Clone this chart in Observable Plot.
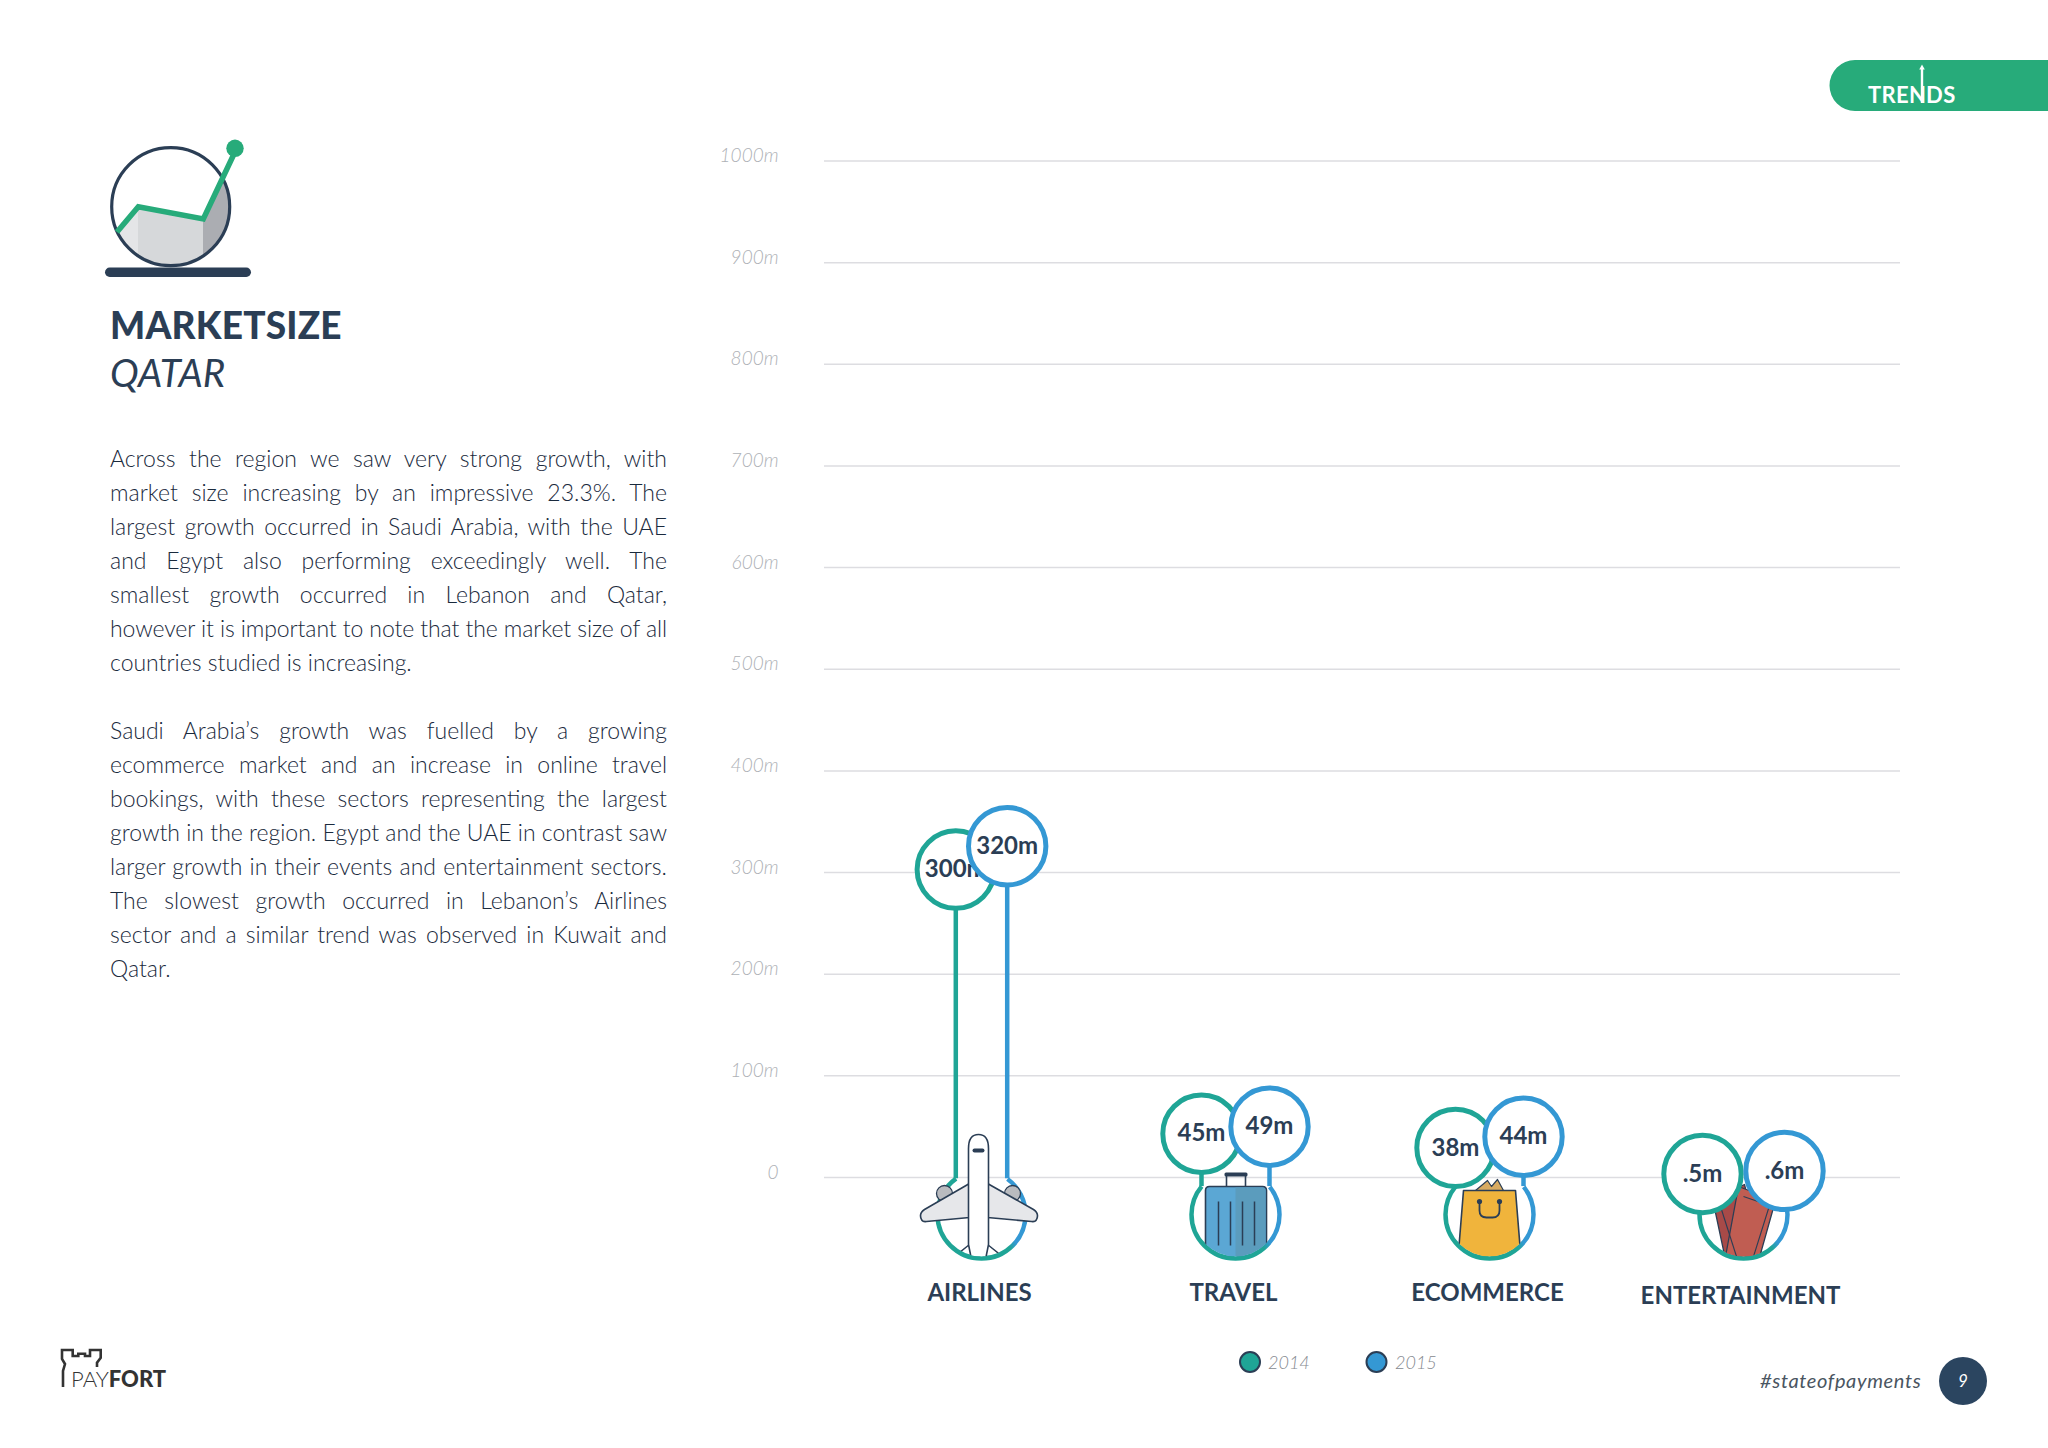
<!DOCTYPE html>
<html>
<head>
<meta charset="utf-8">
<script src="https://cdn.jsdelivr.net/npm/d3@7"></script>
<script src="https://cdn.jsdelivr.net/npm/@observablehq/plot@0.6"></script>
<style>
  html,body{margin:0;padding:0;background:#fff;width:2048px;height:1448px;overflow:hidden;font-family:Lato,sans-serif;color:#2b3e55}
  #page{position:relative;width:2048px;height:1448px}
  #page>*{position:absolute}
  #plot svg{display:block}
  #title{left:110px;top:300px;font-size:37px;font-weight:900;line-height:50px;letter-spacing:.2px}
  #subtitle{left:110px;top:347px;font-size:38.5px;font-style:italic;line-height:50px}
  #body{left:110px;top:441px;width:557px;font-size:23px;line-height:34px;font-weight:300;color:#1a2a3d;letter-spacing:0}
  #body div{white-space:nowrap;height:34px}
  #body span{display:inline-block}
  #tag{left:1760px;top:1366px;font-size:20px;font-style:italic;color:#4a5561;letter-spacing:.65px;line-height:28px}
  .leg{font-size:18px;font-style:italic;color:#85898f;font-weight:300;line-height:26px;top:1349px}
</style>
</head>
<body>
<div id="page">
  <svg id="deco" width="2048" height="1448" style="left:0;top:0">
    <defs>
      <clipPath id="ball"><circle cx="170.7" cy="206.7" r="59"/></clipPath>
    </defs>
    <!-- trends tab -->
    <path d="M2048 60H1855a25.5 25.5 0 0 0 0 51H2048Z" fill="#27ab7a"/>
    <text x="1868" y="103" fill="#fff" font-size="22" font-weight="700" letter-spacing=".3">TREN</text>
    <text x="1926" y="103" fill="#fff" font-size="22" font-weight="700" letter-spacing=".6">DS</text>
    <path d="M1922 103V68" stroke="#fff" stroke-width="2.4"/>
    <path d="M1922 64.5l-2.8 5h5.6Z" fill="#fff"/>
    <!-- market icon -->
    <g clip-path="url(#ball)">
      <path d="M110 240L138 207V290H110Z" fill="#e4e5e7"/>
      <path d="M138 207L203 219V290H138Z" fill="#d6d8da"/>
      <path d="M203 219L233 155L240 155V290H203Z" fill="#abadb2"/>
    </g>
    <circle cx="170.7" cy="206.7" r="59" fill="none" stroke="#2b3e55" stroke-width="3.2"/>
    <path d="M117 232L138.3 206.7L203.3 219L233.5 155" fill="none" stroke="#27ab7a" stroke-width="5.5"/>
    <circle cx="235" cy="148.3" r="8.7" fill="#27ab7a"/>
    <rect x="105" y="267.5" width="146" height="9.5" rx="4.7" fill="#2b3e55"/>
    <!-- payfort logo -->
    <path d="M63 1387V1371L65 1364L62 1359V1350H72.7V1356H78.3V1353.700H85V1356H90V1350H100.700V1357.700L97 1362.700V1367" fill="none" stroke="#333" stroke-width="2.6"/>
    <text x="71" y="1387" font-size="22" fill="#333" font-weight="300">PAY<tspan font-weight="900">FORT</tspan></text>
    <!-- page number -->
    <circle cx="1963" cy="1381" r="24" fill="#2b4560"/>
    <text x="1963" y="1387" text-anchor="middle" font-size="17" font-style="italic" fill="#fff">9</text>
    <!-- legend swatches -->
    <circle cx="1250" cy="1362" r="10" fill="#1fa596" stroke="#2b3e55" stroke-width="2"/>
    <circle cx="1376.500" cy="1362" r="10" fill="#3498d4" stroke="#2b3e55" stroke-width="2"/>
  </svg>
  <div id="plot" style="left:0;top:0"></div>
  <div id="title">MARKETSIZE</div>
  <div id="subtitle">QATAR</div>
  <div id="body"></div>
  <div class="leg" style="left:1268px">2014</div>
  <div class="leg" style="left:1395px">2015</div>
  <div id="tag">#stateofpayments</div>
</div>
<script>
// ---- chart data ----
const categories = ["AIRLINES", "TRAVEL", "ECOMMERCE", "ENTERTAINMENT"];
const values2014 = [300, 45, 38, 0.5];
const values2015 = [320, 49, 44, 0.6];
const yearNames = ["2014", "2015"];
const yTicks = [0, 100, 200, 300, 400, 500, 600, 700, 800, 900, 1000];

// ---- copy ----
const paragraphOne = [
  "Across the region we saw very strong growth, with",
  "market size increasing by an impressive 23.3%. The",
  "largest growth occurred in Saudi Arabia, with the UAE",
  "and Egypt also performing exceedingly well. The",
  "smallest growth occurred in Lebanon and Qatar,",
  "however it is important to note that the market size of all",
  "countries studied is increasing."
];
const paragraphTwo = [
  "Saudi Arabia\u2019s growth was fuelled by a growing",
  "ecommerce market and an increase in online travel",
  "bookings, with these sectors representing the largest",
  "growth in the region. Egypt and the UAE in contrast saw",
  "larger growth in their events and entertainment sectors.",
  "The slowest growth occurred in Lebanon\u2019s Airlines",
  "sector and a similar trend was observed in Kuwait and",
  "Qatar."
];

// ---- layout (not data) ----
const TEAL = "#1fa596", BLUE = "#3498d4", INK = "#2b3e55";
const spread = {AIRLINES: 25.7, TRAVEL: 34, ECOMMERCE: 34, ENTERTAINMENT: 41};
const nudge = {AIRLINES: [-3, -6], TRAVEL: [2, -1], ECOMMERCE: [9, 4], ENTERTAINMENT: [-3, -6]};
const hubDrop = 37, hubR = 44;
// the hub is an open ring: it runs from one stem round the bottom to the other
const hubAngle = c => Math.acos(spread[c] / hubR);
const hubDash = c => {
  const seen = (Math.PI + 2 * hubAngle(c)) * hubR;
  return `${seen} ${2 * Math.PI * hubR - seen}`;
};
const hubOffset = c => hubAngle(c) * hubR;
const stemEnd = c => -(hubDrop - Math.sqrt(hubR * hubR - spread[c] * spread[c])) * (1000 / 1016.5);

// ---- icons (pictograms, centred on the hub circle) ----
const wrapIcon = (art, keep) => "data:image/svg+xml," + encodeURIComponent(
  `<svg xmlns="http://www.w3.org/2000/svg" width="180" height="180" viewBox="-90 -90 180 180">
   <defs><clipPath id="c"><circle r="42"/><rect x="-90" y="-90" width="180" height="${90 + keep}"/></clipPath></defs>
   <g clip-path="url(#c)" stroke="${INK}" stroke-linejoin="round">${art}</g></svg>`);
const iconSrc = {
  AIRLINES: wrapIcon(`
    <circle cx="-37" cy="-21" r="8" fill="#b9bbbf" stroke-width="1.300"/>
    <circle cx="31" cy="-21" r="8" fill="#b9bbbf" stroke-width="1.300"/>
    <path d="M-32 46L-12 30M26 46L6 30" fill="none" stroke-width="1.500"/>
    <path d="M-12 -31L-57 -5Q-63 -1 -60 5Q-59 7.500 -55 7L-12 3ZM6 -31L52 -5Q58 -1 55 5Q54 7.500 50 7L6 3Z" fill="#e6e7ea" stroke-width="1.600"/>
    <path d="M-13 -66Q-13 -80 -3 -80Q7 -80 7 -66V30L3 50H-9L-13 30Z" fill="#fff" stroke-width="1.600"/>
    <rect x="-9" y="-66" width="12" height="4" rx="2" fill="${INK}" stroke="none"/>`, 10),
  TRAVEL: wrapIcon(`
    <path d="M-9 -28V-39M10 -28V-39" fill="none" stroke-width="1.600"/>
    <rect x="-11" y="-42" width="23" height="4" rx="1.500" fill="${INK}" stroke="none"/>
    <path d="M-30 50V-24Q-30 -28 -26 -28H27Q31 -28 31 -24V50Z" fill="#5ba7d4" stroke-width="1.600"/>
    <path d="M0 -27H27Q30 -27 30 -24V50H0Z" fill="#5b9cbd" stroke="none"/>
    <path d="M-17 -13V31M-5 -13V31M7 -13V31M19 -13V31" fill="none" stroke-width="1.500"/>`, 0),
  ECOMMERCE: wrapIcon(`
    <path d="M-14 -24L-2 -34L2 -28L8 -35L14 -24Z" fill="#d8ab62" stroke-width="1.200"/>
    <path d="M-26 -24H26L32 50H-32Z" fill="#f0b43c" stroke-width="1.600"/>
    <circle cx="-10" cy="-13" r="2.600" fill="${INK}" stroke="none"/>
    <circle cx="10" cy="-13" r="2.600" fill="${INK}" stroke="none"/>
    <path d="M-10 -13V-4Q-10 3 -3 3H3Q10 3 10 -4V-13" fill="none" stroke-width="1.800"/>`, -30),
  ENTERTAINMENT: wrapIcon(`
    <path d="M-31 -16L1 -30L18 40L-17 50Z" fill="#a84a48" stroke-width="1.300"/>
    <path d="M-5 -28L32 -14L14 50L-18 42Z" fill="#c05d52" stroke-width="1.300"/>
    <path d="M0 -18L26 -9L10 42" fill="none" stroke-width="1.100"/>
    <path d="M-23 -8L-7 42" fill="none" stroke-width="1.100"/>`, -60)
};

// ---- tables for the marks ----
const rows = categories.flatMap((category, i) => [
  {category, value: values2014[i], year: yearNames[0], color: TEAL, side: -1, slot: 0},
  {category, value: values2015[i], year: yearNames[1], color: BLUE, side: 1, slot: 1}
]);
const label = d => String(d).replace(/^0\./, ".") + "m";
const eachRow = (make) => rows.map(d => make(d, d.side * spread[d.category], nudge[d.category][d.slot]));

const plot = Plot.plot({
  width: 2048, height: 1448,
  marginLeft: 824, marginRight: 148, marginTop: 160, marginBottom: 271,
  style: {fontFamily: "Lato, sans-serif", background: "transparent", color: INK},
  x: {type: "point", domain: categories, range: [980, 1744], padding: 0, axis: null},
  y: {domain: [0, 1000], range: [1177, 160.5], axis: null},
  marks: [
    () => {
      const g = d3.create("svg:defs");
      const grad = g.append("linearGradient").attr("id", "hubStroke")
        .attr("x1", 0.1).attr("y1", 0.9).attr("x2", 0.9).attr("y2", 0.35);
      grad.append("stop").attr("offset", "62%").attr("stop-color", TEAL);
      grad.append("stop").attr("offset", "72%").attr("stop-color", BLUE);
      return g.node();
    },
    Plot.ruleY(yTicks, {stroke: "#dddde1", strokeWidth: 1.5}),
    Plot.axisY(yTicks, {
      anchor: "left", label: null, tickSize: 0, tickPadding: 46, dy: -5,
      tickFormat: d => d === 0 ? "0" : d + "m",
      fontSize: 19, fontStyle: "italic", fontWeight: 300, fill: "#aeb1b6"
    }),
    Plot.axisX({
      ticks: categories.slice(0, 3), anchor: "bottom", label: null, tickSize: 0, tickPadding: 106, dx: -2,
      fontSize: 24, fontWeight: 700, fill: INK, letterSpacing: "1.4px"
    }),
    Plot.axisX({
      ticks: categories.slice(3), anchor: "bottom", label: null, tickSize: 0, tickPadding: 109, dx: -3,
      fontSize: 24, fontWeight: 700, fill: INK, letterSpacing: ".9px"
    }),
    // stems from each value down to the hub ring
    ...eachRow((d, dx) => Plot.ruleX([d], {
      x: "category", y1: r => stemEnd(r.category), y2: "value", dx, stroke: "color", strokeWidth: 4.5
    })),
    // hub ring and pictogram under each category
    ...categories.map(c => Plot.dot([c], {
      x: d => d, y: () => 0, dy: hubDrop, r: hubR, fill: "none", stroke: "url(#hubStroke)", strokeWidth: 4.5,
      strokeDasharray: hubDash(c), strokeDashoffset: hubOffset(c)
    })),
    Plot.image(categories, {x: d => d, y: () => 0, dy: hubDrop, src: d => iconSrc[d], width: 180, height: 180}),
    // value bubbles
    ...eachRow((d, dx, dy) => [
      Plot.dot([d], {x: "category", y: "value", dx, dy, r: 38.7, fill: "#fff", stroke: "color", strokeWidth: 5}),
      Plot.text([d], {x: "category", y: "value", dx, dy: dy, text: r => label(r.value), fontSize: 24, fontWeight: 700, fill: INK, letterSpacing: "1.2px"})
    ])
  ]
});
document.getElementById("plot").appendChild(plot);

// ---- justified text, line for line as in the reference ----
const body = document.getElementById("body");
const WIDTH = 557;
function addLine(text, justify) {
  const row = document.createElement("div");
  const span = document.createElement("span");
  span.textContent = text;
  row.appendChild(span);
  body.appendChild(row);
  if (!justify) return;
  const natural = span.getBoundingClientRect().width;
  const gaps = text.split(" ").length - 1;
  if (natural > WIDTH) span.style.letterSpacing = ((WIDTH - natural) / (text.length - 1)) + "px";
  else span.style.wordSpacing = ((WIDTH - natural) / gaps) + "px";
}
paragraphOne.forEach((t, i) => addLine(t, i < paragraphOne.length - 1));
addLine("\u00a0", false);
paragraphTwo.forEach((t, i) => addLine(t, i < paragraphTwo.length - 1));
</script>
</body>
</html>
